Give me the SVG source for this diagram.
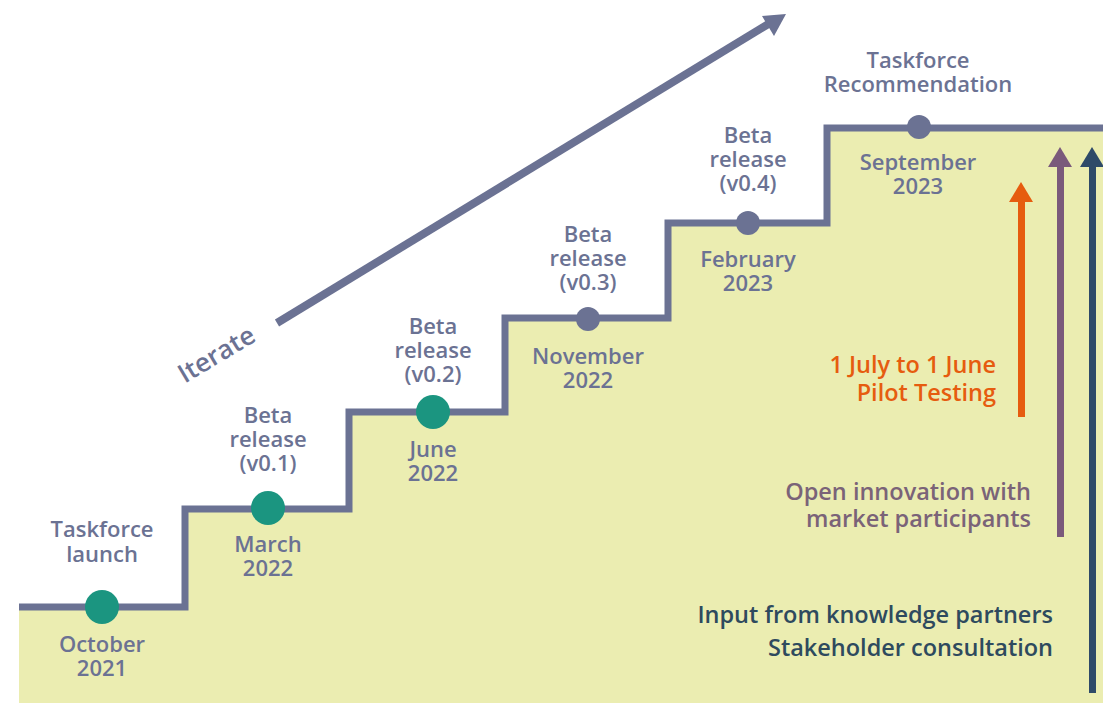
<svg xmlns="http://www.w3.org/2000/svg" width="1103" height="703" viewBox="0 0 1103 703">
<style>
.lbl{font-family:"Open Sans","Liberation Sans",sans-serif;font-size:22px;font-weight:600;fill:#6b7293;text-anchor:middle}
.rt{font-family:"Open Sans","Liberation Sans",sans-serif;font-size:23.5px;font-weight:600;text-anchor:end}
.step{fill:none;stroke:#6b7293;stroke-width:7}
</style>
<rect width="1103" height="703" fill="#ffffff"/>
<g id="fill">
<polygon points="19,607 185,607 185,509 349,509 349,412 505,412 505,318 668,318 668,223 827,223 827,128 1103,128 1103,703 19,703" fill="#ebedb1"/>
</g>
<g id="connectors">
<polyline class="step" points="19,607 185,607 185,509 349,509 349,412 505,412 505,318 668,318 668,223 827,223 827,128 1103,128"/>
<line x1="277" y1="323" x2="770" y2="23" stroke="#6b7293" stroke-width="8"/>
<polygon points="786,14 762,16 774,36" fill="#6b7293"/>
<rect x="1018" y="198" width="7" height="219" fill="#e65c0f"/>
<polygon points="1021,182 1009,202 1033,202" fill="#e65c0f"/>
<rect x="1057" y="165" width="7" height="372" fill="#7a5a7b"/>
<polygon points="1060,147 1048,167 1072,167" fill="#7a5a7b"/>
<rect x="1089" y="165" width="7" height="528" fill="#2e4a68"/>
<polygon points="1092,147 1080,167 1104,167" fill="#2e4a68"/>
</g>
<g id="iterate"><text class="lbl" transform="translate(221,362) rotate(-31)" style="font-size:26px">Iterate</text></g>
<g id="oct2021">
<circle cx="102" cy="607" r="17" fill="#1b9580"/>
<text class="lbl" x="102" y="537">Taskforce</text><text class="lbl" x="102" y="562">launch</text>
<text class="lbl" x="102" y="652">October</text><text class="lbl" x="102" y="676">2021</text>
</g>
<g id="mar2022">
<circle cx="268" cy="508" r="17" fill="#1b9580"/>
<text class="lbl" x="268" y="423">Beta</text><text class="lbl" x="268" y="447">release</text><text class="lbl" x="268" y="471">(v0.1)</text>
<text class="lbl" x="268" y="552">March</text><text class="lbl" x="268" y="576">2022</text>
</g>
<g id="jun2022">
<circle cx="433" cy="412" r="17" fill="#1b9580"/>
<text class="lbl" x="433" y="334">Beta</text><text class="lbl" x="433" y="358">release</text><text class="lbl" x="433" y="382">(v0.2)</text>
<text class="lbl" x="433" y="457">June</text><text class="lbl" x="433" y="481">2022</text>
</g>
<g id="nov2022">
<circle cx="588" cy="319" r="12" fill="#6b7293"/>
<text class="lbl" x="588" y="242">Beta</text><text class="lbl" x="588" y="266">release</text><text class="lbl" x="588" y="290">(v0.3)</text>
<text class="lbl" x="588" y="364">November</text><text class="lbl" x="588" y="388">2022</text>
</g>
<g id="feb2023">
<circle cx="748" cy="223" r="12" fill="#6b7293"/>
<text class="lbl" x="748" y="143">Beta</text><text class="lbl" x="748" y="167">release</text><text class="lbl" x="748" y="191">(v0.4)</text>
<text class="lbl" x="748" y="267">February</text><text class="lbl" x="748" y="291">2023</text>
</g>
<g id="sep2023">
<circle cx="919" cy="127" r="12" fill="#6b7293"/>
<text class="lbl" x="918" y="68">Taskforce</text><text class="lbl" x="918" y="92">Recommendation</text>
<text class="lbl" x="918" y="170">September</text><text class="lbl" x="918" y="194">2023</text>
</g>
<g id="pilot">
<text class="rt" x="996" y="373" fill="#e65c0f">1 July to 1 June</text>
<text class="rt" x="996" y="401" fill="#e65c0f">Pilot Testing</text>
</g>
<g id="open">
<text class="rt" x="1031" y="500" fill="#7a6378">Open innovation with</text>
<text class="rt" x="1031" y="527" fill="#7a6378">market participants</text>
</g>
<g id="input">
<text class="rt" x="1053" y="623" fill="#2e4a5e">Input from knowledge partners</text>
<text class="rt" x="1053" y="656" fill="#2e4a5e">Stakeholder consultation</text>
</g>
</svg>
